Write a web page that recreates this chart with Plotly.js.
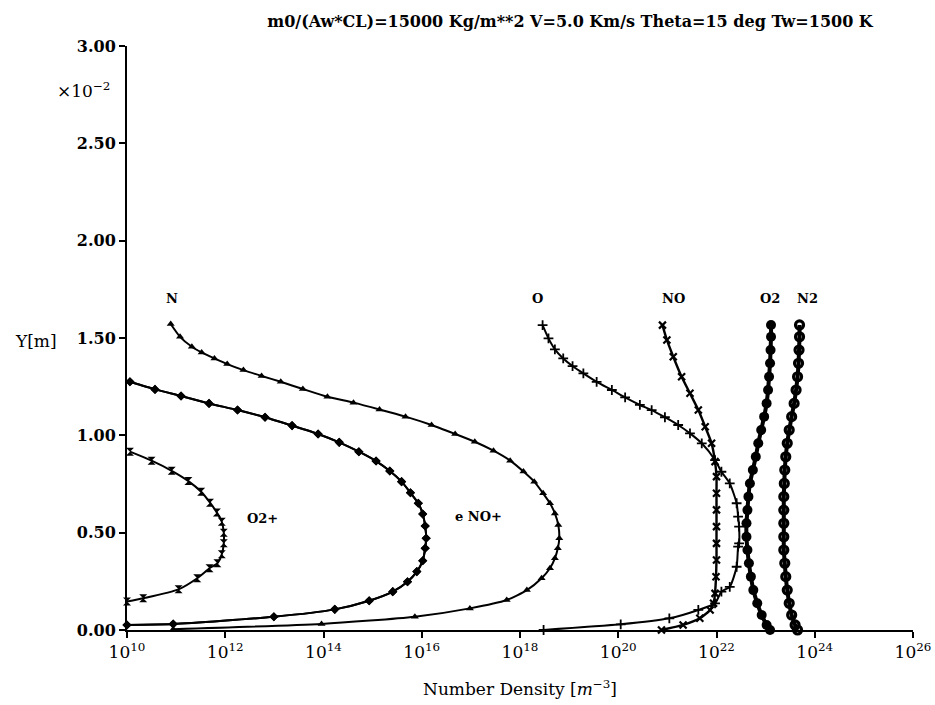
<!DOCTYPE html>
<html>
<head>
<meta charset="utf-8">
<script src="https://cdn.plot.ly/plotly-3.0.1.min.js"></script>
<style>html,body{margin:0;padding:0;background:#fff}#chart{width:935px;height:705px}</style>
</head>
<body>
<div id="chart"></div>
<script>
// Values: log10 of number density [m^-3] and Y in units of 1e-2 m
const N_log = [10.89,11.08,11.32,11.52,11.78,12.04,12.37,12.74,13.13,13.58,14.08,14.61,15.14,15.67,16.20,16.68,17.08,17.46,17.80,18.07,18.29,18.47,18.61,18.71,18.78,18.80,18.77,18.71,18.61,18.44,18.14,17.73,16.98,15.86,13.96,10.94];
const N_y   = [1.572,1.506,1.455,1.426,1.395,1.366,1.335,1.305,1.275,1.238,1.198,1.168,1.133,1.096,1.053,1.007,0.967,0.921,0.870,0.814,0.762,0.702,0.651,0.599,0.539,0.471,0.420,0.368,0.317,0.266,0.205,0.154,0.111,0.068,0.031,0.004];

const e_log = [10.06,10.57,11.10,11.67,12.25,12.81,13.36,13.89,14.32,14.72,15.07,15.35,15.59,15.77,15.93,16.02,16.07,16.09,16.07,16.02,15.90,15.71,15.41,14.93,14.23,12.99,10.94,10.0];
const e_y   = [1.275,1.236,1.202,1.164,1.130,1.093,1.050,1.007,0.964,0.916,0.868,0.817,0.762,0.705,0.651,0.596,0.534,0.471,0.420,0.356,0.300,0.248,0.197,0.150,0.106,0.068,0.031,0.026];
const NOp_log = e_log;
const NOp_y = e_y;

const O2p_log = [10.06,10.50,10.91,11.25,11.51,11.69,11.83,11.93,11.97,11.97,11.93,11.84,11.68,11.43,11.05,10.33,10.0];
const O2p_y   = [0.916,0.870,0.818,0.765,0.710,0.654,0.603,0.556,0.500,0.445,0.389,0.343,0.317,0.266,0.209,0.163,0.146];

const O_log = [18.46,18.58,18.71,18.88,19.07,19.29,19.56,19.87,20.14,20.44,20.68,20.95,21.22,21.46,21.70,21.97,22.10,22.27,22.41,22.44,22.46,22.46,22.44,22.41,22.27,22.10,21.97,21.63,21.04,20.05,18.48];
const O_y   = [1.566,1.498,1.442,1.395,1.356,1.318,1.275,1.233,1.195,1.156,1.130,1.093,1.053,1.010,0.959,0.873,0.813,0.753,0.651,0.582,0.531,0.445,0.428,0.325,0.222,0.197,0.137,0.103,0.060,0.029,0.0];

const NO_log = [20.90,20.99,21.12,21.29,21.46,21.63,21.77,21.90,21.97,22.00,22.00,22.00,22.00,22.00,22.00,21.99,21.97,21.94,21.87,21.66,21.32,20.88];
const NO_y   = [1.566,1.490,1.404,1.301,1.216,1.130,1.044,0.959,0.865,0.788,0.702,0.617,0.531,0.445,0.360,0.274,0.188,0.137,0.103,0.060,0.026,0.0];

const O2_log = [23.11,23.11,23.10,23.09,23.07,23.05,23.02,22.97,22.91,22.85,22.80,22.74,22.68,22.65,22.63,22.61,22.61,22.63,22.66,22.70,22.75,22.83,22.92,23.02,23.09];
const O2_y   = [1.567,1.506,1.438,1.370,1.301,1.233,1.164,1.096,1.027,0.959,0.890,0.822,0.753,0.685,0.616,0.548,0.479,0.411,0.343,0.274,0.205,0.137,0.077,0.026,0.0];

const N2_log = [23.69,23.69,23.68,23.67,23.65,23.62,23.58,23.53,23.48,23.44,23.41,23.39,23.38,23.37,23.37,23.37,23.37,23.37,23.39,23.41,23.44,23.48,23.53,23.60,23.65];
const N2_y   = [1.567,1.506,1.438,1.370,1.301,1.233,1.164,1.096,1.027,0.959,0.890,0.822,0.753,0.685,0.616,0.548,0.479,0.411,0.343,0.274,0.205,0.137,0.077,0.026,0.0];

const xTickExp = [10,12,14,16,18,20,22,24,26];
const yTickVals = [0,0.5,1.0,1.5,2.0,2.5,3.0];
const yTickText = ['0.00','0.50','1.00','1.50','2.00','2.50','3.00'];

const species = [
  {name:'N', lx:N_log, y:N_y, sym:'triangle-up', size:7},
  {name:'e', lx:e_log, y:e_y, sym:'diamond', size:7},
  {name:'NO+', lx:NOp_log, y:NOp_y, sym:'diamond', size:7},
  {name:'O2+', lx:O2p_log, y:O2p_y, sym:'hourglass', size:8},
  {name:'O', lx:O_log, y:O_y, sym:'cross-thin', size:7, lw:1.8},
  {name:'NO', lx:NO_log, y:NO_y, sym:'x-thin', size:7, lw:2.2, width:2.4},
  {name:'O2', lx:O2_log, y:O2_y, sym:'circle', size:10, width:4},
  {name:'N2', lx:N2_log, y:N2_y, sym:'circle-open', size:8, lw:3.2, width:4}
];

const traces = species.map(s => ({
  type:'scatter', mode:'lines+markers', name:s.name,
  x: s.lx.map(v => Math.pow(10, v)), y: s.y,
  line:{color:'#000', width:s.width || 2, shape:'spline', smoothing:0.6},
  marker:{symbol:s.sym, size:s.size, color:'#000', line:{color:'#000', width:s.lw || 0}},
  showlegend:false, cliponaxis:false
}));

const L = 127, R = 913, T = 46, B = 630;
const px = v => (v - L) / (R - L);
const py = v => (B - v) / (B - T);
const serif = 'DejaVu Serif, Liberation Serif, serif';
const lab = (text, x, y, opts) => Object.assign({text, xref:'paper', yref:'paper', x:px(x), y:py(y), showarrow:false,
  font:{family:serif, size:13, color:'#000', weight:'bold'}, xanchor:'center', yanchor:'middle'}, opts || {});

const layout = {
  width:935, height:705,
  margin:{l:L, r:935-R, t:T, b:705-B},
  paper_bgcolor:'#fff', plot_bgcolor:'#fff',
  title:{text:'m0/(Aw*CL)=15000 Kg/m**2 V=5.0 Km/s Theta=15 deg Tw=1500 K',
    xref:'container', yref:'container', x:570/935, y:1-21/705, xanchor:'center', yanchor:'middle',
    font:{family:serif, size:16, color:'#000', weight:'bold'}},
  xaxis:{type:'log', range:[10,26], showgrid:false, zeroline:false,
    showline:true, linecolor:'#000', linewidth:2, ticks:'outside', ticklen:6, tickwidth:2, tickcolor:'#000',
    tickvals:xTickExp.map(e => Math.pow(10,e)), ticktext:xTickExp.map(e => '10<sup>'+e+'</sup>'),
    tickfont:{family:serif, size:17, color:'#000'},
    title:{text:'Number Density [<i>m</i><sup>−3</sup>]', font:{family:serif, size:17, color:'#000'}, standoff:22}},
  yaxis:{range:[0,3], showgrid:false, zeroline:false,
    showline:true, linecolor:'#000', linewidth:2, ticks:'outside', ticklen:6, tickwidth:2, tickcolor:'#000',
    tickvals:yTickVals, ticktext:yTickText,
    tickfont:{family:serif, size:16, color:'#000', weight:'bold'}},
  annotations:[
    lab('Y[m]', 36, 341, {font:{family:serif, size:17, color:'#000'}}),
    lab('×10<sup>−2</sup>', 112, 90, {xanchor:'right', font:{family:serif, size:17, color:'#000'}}),
    lab('N', 172, 298),
    lab('O', 537, 298),
    lab('NO', 673, 298),
    lab('O2', 770, 298),
    lab('N2', 807, 298),
    lab('O2+', 262, 518),
    lab('e NO+', 478, 516)
  ]
};

Plotly.newPlot('chart', traces, layout, {staticPlot:true, displayModeBar:false});
</script>
</body>
</html>
